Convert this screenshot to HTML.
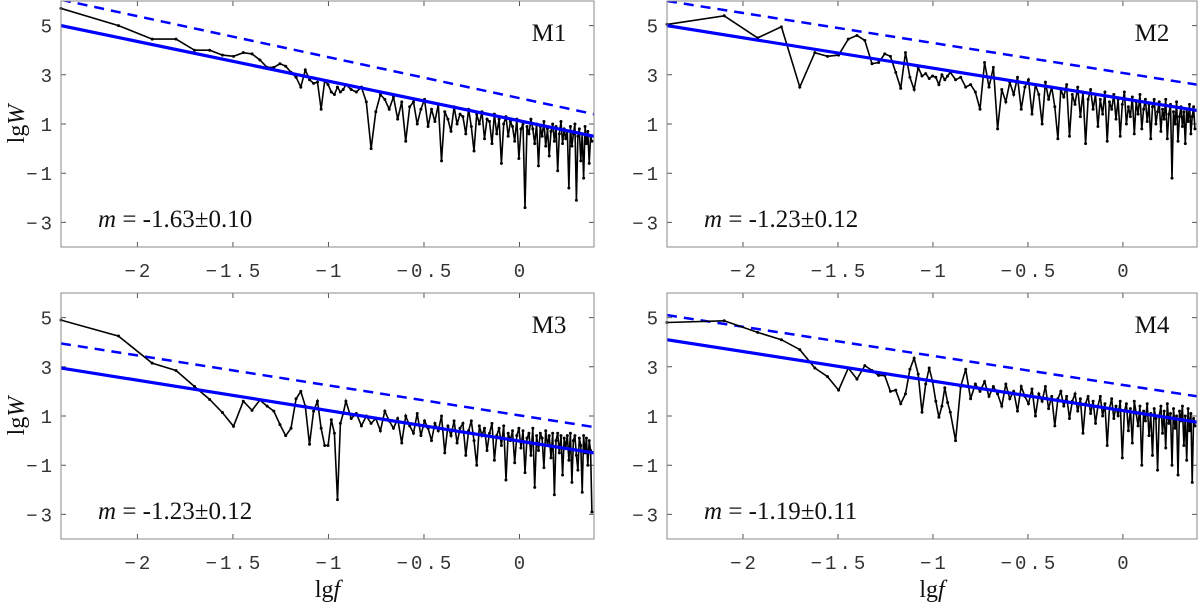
<!DOCTYPE html>
<html><head><meta charset="utf-8"><style>
body{margin:0;background:#fff}
svg{display:block}
</style></head><body>
<svg id="fig" width="1200" height="608" xmlns="http://www.w3.org/2000/svg"></svg>
<script>
// ---- data ----
const panelNames = ["M1","M2","M3","M4"];
const slopeLabels = ["-1.63±0.10","-1.23±0.12","-1.23±0.12","-1.19±0.11"];
const xTicks = [-2,-1.5,-1,-0.5,0];
const xTickLabels = ["−2","−1.5","−1","−0.5","0"];
const yTicks = [5,3,1,-1,-3];
const yTickLabels = ["5","3","1","−1","−3"];
const x0 = -2.4, x1 = 0.39;
const denseStart = 31;
const fitSolidStart = [5.0, 5.0, 2.95, 4.1];
const fitSolidEnd = [0.5, 1.55, -0.5, 0.75];
const fitDashStart = [6.05, 6.0, 3.95, 5.1];
const fitDashEnd = [1.4, 2.6, 0.55, 1.8];
const lowM1 = [5.7,5.0,4.45,4.45,4.0,4.0,3.8,3.75,3.9,3.85,3.6,3.3,3.3,3.45,3.35,3.1,2.9,2.5,3.2,2.8,2.65,2.7,1.6,2.75,2.6,2.3,2.2,2.5,2.3,2.4];
const denseM1 = [2.6,2.4,2.3,2.5,1.9,0.0,1.5,2.2,2.0,1.6,2.1,1.2,1.9,0.3,1.7,1.9,1.0,1.6,2.0,0.9,1.6,1.1,1.8,-0.5,1.5,1.2,0.7,1.7,1.0,1.4,1.3,0.6,1.6,0.9,-0.1,1.4,1.0,1.5,0.4,1.2,1.1,0.2,1.4,0.6,1.2,-0.6,1.0,1.3,0.5,1.1,0.9,0.3,1.2,-0.4,0.8,1.0,-2.4,0.9,0.6,1.2,0.8,0.2,1.0,-0.7,0.9,0.5,1.1,0.1,0.8,-0.3,0.7,1.0,0.3,0.9,-0.9,0.6,1.1,0.2,0.8,0.4,0.7,-1.6,0.9,0.1,0.6,1.0,-2.1,0.5,0.8,-0.5,0.6,-1.2,0.9,0.2,0.7,-0.6,0.5,0.3];
const lowM2 = [5.05,5.4,4.5,4.95,2.5,3.9,3.75,3.8,4.45,4.6,4.4,3.45,3.5,3.85,3.75,3.1,2.45,3.9,2.9,2.4,3.3,2.95,3.05,2.85,2.95,2.9,2.6,3.0,2.8,2.95];
const denseM2 = [3.1,2.8,2.9,2.5,2.6,2.3,1.6,3.5,2.5,3.3,0.8,2.4,1.9,2.7,2.2,2.9,1.6,2.5,2.8,1.4,2.6,2.2,1.0,2.7,2.0,2.5,1.7,0.4,2.4,2.1,2.6,0.5,2.2,1.8,2.5,1.3,2.3,0.2,2.0,2.4,1.6,2.2,0.9,2.0,1.4,2.3,0.3,1.9,1.6,2.2,1.2,2.0,0.5,1.8,2.3,1.0,1.7,1.3,2.1,0.6,1.9,1.4,2.2,0.8,1.6,2.0,1.1,1.8,0.4,1.7,2.0,1.0,1.5,1.9,0.7,1.6,1.2,2.0,0.4,1.4,1.8,-1.2,1.5,1.0,1.9,0.3,1.3,1.7,0.9,1.5,0.2,1.6,1.1,1.8,0.6,1.3,1.7,0.8];
const lowM3 = [4.9,4.25,3.15,2.85,2.2,1.67,1.14,0.58,1.6,1.23,1.65,1.4,1.2,0.65,0.2,0.5,1.7,2.0,1.4,-0.15,1.2,1.6,0.5,-0.2,-0.2,0.85,0.3,-2.4,0.7,1.1];
const denseM3 = [1.6,0.9,1.1,0.6,1.0,0.7,0.9,0.4,1.2,0.8,0.5,0.9,-0.1,1.0,0.6,0.3,1.1,0.2,0.8,0.5,0.0,0.7,0.4,1.0,-0.5,0.6,0.2,0.8,-0.1,0.5,0.7,-0.6,0.4,0.8,0.0,-1.0,0.6,0.2,0.5,-0.4,0.3,0.7,-0.8,0.2,0.5,-0.2,0.6,-1.6,0.3,0.0,0.4,-0.9,0.2,0.5,-0.3,0.4,-1.3,0.1,0.3,-0.6,0.5,-1.9,0.2,-0.4,0.3,0.1,-1.1,0.4,-0.2,0.2,-0.7,0.3,-2.2,0.0,0.3,-0.5,0.2,-1.4,0.1,-0.3,0.2,-0.8,0.3,-1.7,0.0,0.2,-0.6,-1.2,0.1,-0.2,-2.1,0.2,-0.5,0.1,-1.0,0.0,-0.4,-2.9];
const lowM4 = [4.8,4.87,4.4,4.1,3.7,2.95,2.6,2.05,2.95,2.5,3.05,2.85,2.65,2.65,2.0,2.05,1.5,1.9,2.9,3.35,2.7,1.15,2.3,2.95,2.4,1.6,0.95,1.4,2.15,1.55];
const denseM4 = [1.15,0.0,2.2,2.9,1.7,2.3,2.0,2.4,1.8,2.2,1.9,1.4,2.3,1.7,2.0,1.2,2.2,1.8,1.5,2.1,1.0,1.9,1.6,2.2,1.3,1.8,0.6,1.7,2.0,1.4,1.8,0.9,1.6,1.9,1.2,1.7,0.3,1.5,1.8,1.1,1.6,0.7,1.4,1.8,1.0,1.5,-0.2,1.3,1.7,0.9,1.4,1.0,1.6,-0.7,1.2,1.5,0.4,1.3,-0.1,1.6,1.1,0.6,1.4,-1.0,1.2,0.8,1.5,0.2,1.1,-0.6,1.3,0.9,-1.2,1.0,1.4,0.3,1.2,-0.3,1.5,0.7,1.1,-1.0,1.3,0.5,1.0,-1.4,1.2,0.8,1.4,-0.2,1.0,-0.8,1.3,0.4,1.1,-1.7,0.9,0.6];
const lowSeries = [lowM1, lowM2, lowM3, lowM4];
const denseSeries = [denseM1, denseM2, denseM3, denseM4];
// frequency index of the i-th dense sample (samples get sparser at high k)
function denseK(i){ return denseStart + 2*i + 0.04*i*i; }

// ---- layout ----
const boxes = [
  {l:61,r:594,t:1,b:247},{l:667,r:1197,t:1,b:247},
  {l:61,r:594,t:293,b:539},{l:667,r:1197,t:293,b:539}
];
const yMin=-4, yMax=6;
const NS="http://www.w3.org/2000/svg";
const svg=document.getElementById('fig');
function mk(tag,attrs,parent){const e=document.createElementNS(NS,tag);for(const k in attrs)e.setAttribute(k,attrs[k]);(parent||svg).appendChild(e);return e;}

boxes.forEach((B,p)=>{
  const sx=v=>B.l+(v-x0)/(x1-x0)*(B.r-B.l);
  const sy=v=>B.b-(v-yMin)/(yMax-yMin)*(B.b-B.t);
  const g=mk('g',{});
  
  
  const clipId='clip'+p;
  const cp=mk('clipPath',{id:clipId},g);
  mk('rect',{x:B.l,y:B.t,width:B.r-B.l,height:B.b-B.t},cp);
  xTicks.forEach((t,i)=>{
    const x=sx(t);
    const tk=mk('path',{d:`M${x},${B.b}v-5M${x},${B.t}v5`,stroke:'#555','stroke-width':1},g);
    
    
    const lb=mk('text',{x:x+1.5,y:B.b+30,'text-anchor':'middle','font-family':'Liberation Mono, monospace','font-size':19,'letter-spacing':3,fill:'#333'},g);
    lb.textContent=xTickLabels[i];
    
    
  });
  yTicks.forEach((t,i)=>{
    const y=sy(t);
    const tk=mk('path',{d:`M${B.l},${y}h5M${B.r},${y}h-5`,stroke:'#555','stroke-width':1},g);
    
    
    const lb=mk('text',{x:B.l-6,y:y+7,'text-anchor':'end','font-family':'Liberation Mono, monospace','font-size':19,'letter-spacing':3,fill:'#333'},g);
    lb.textContent=yTickLabels[i];
    
    
  });
  const ds=mk('line',{x1:sx(x0),y1:sy(fitDashStart[p]),x2:sx(x1),y2:sy(fitDashEnd[p]),stroke:'#0000ff','stroke-width':2.5,'stroke-dasharray':'10,7','clip-path':`url(#${clipId})`},g);
  
  
  const pts=[];
  lowSeries[p].forEach((v,i)=>pts.push([sx(x0+Math.log10(i+1)),sy(v)]));
  denseSeries[p].forEach((v,i)=>pts.push([sx(x0+Math.log10(denseK(i))),sy(v)]));
  const pl=mk('polyline',{points:pts.map(q=>q[0].toFixed(1)+','+q[1].toFixed(1)).join(' '),fill:'none',stroke:'#000','stroke-width':1.6,'clip-path':`url(#${clipId})`},g);
  
  
  pts.forEach(q=>{
    const c=mk('circle',{cx:q[0],cy:q[1],r:1.5,fill:'#000'},g);
    
    
  });
  const sl=mk('line',{x1:sx(x0),y1:sy(fitSolidStart[p]),x2:sx(x1),y2:sy(fitSolidEnd[p]),stroke:'#0000ff','stroke-width':3.2,'clip-path':`url(#${clipId})`},g);
  
  
  const fr=mk('rect',{x:B.l,y:B.t,width:B.r-B.l,height:B.b-B.t,fill:'none',stroke:'#888','stroke-width':1},g);
  
  
  const tt=mk('text',{x:B.r-45,y:B.t+40,'text-anchor':'middle','font-family':'Liberation Serif, serif','font-size':25,fill:'#111'},g);
  tt.textContent=panelNames[p];
  
  
  const an=mk('text',{x:B.l+37,y:B.t+226,'font-family':'Liberation Serif, serif','font-size':25,fill:'#111'},g);
  
  
  const m=mk('tspan',{'font-style':'italic'},an); m.textContent='m';
  const r=mk('tspan',{},an); r.textContent=' = '+slopeLabels[p];
  if(p%2===0){
    const yl=mk('text',{x:0,y:0,transform:`translate(24,${(B.t+B.b)/2}) rotate(-90)`,'text-anchor':'middle','font-family':'Liberation Serif, serif','font-size':24,fill:'#111'},g);
    
    
    const a=mk('tspan',{},yl); a.textContent='lg';
    const b=mk('tspan',{'font-style':'italic'},yl); b.textContent='W';
  }
  if(p>=2){
    const xl=mk('text',{x:(B.l+B.r)/2,y:597,'text-anchor':'middle','font-family':'Liberation Serif, serif','font-size':24,fill:'#111'},g);
    
    
    const a=mk('tspan',{},xl); a.textContent='lg';
    const b=mk('tspan',{'font-style':'italic'},xl); b.textContent='f';
  }
});
</script>
</body></html>
